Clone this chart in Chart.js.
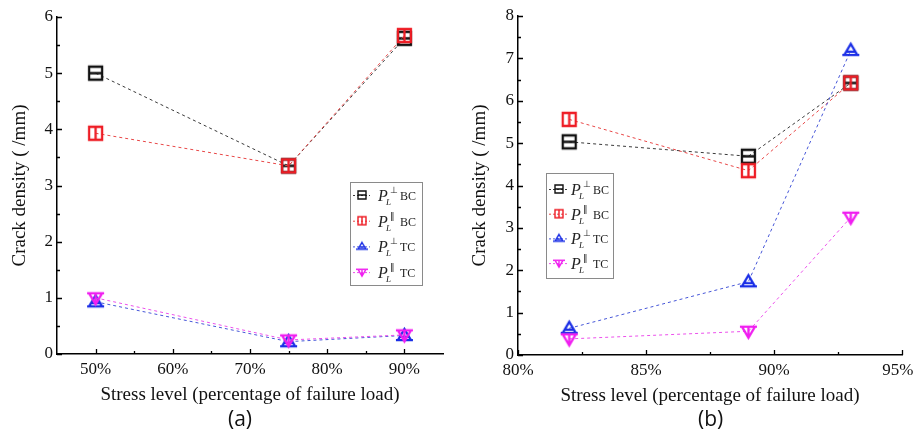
<!DOCTYPE html>
<html>
<head>
<meta charset="utf-8">
<script src="https://cdn.jsdelivr.net/npm/chart.js@4.4.0/dist/chart.umd.min.js"></script>
<style>
  body { margin: 0; background: #fff; width: 914px; height: 433px; overflow: hidden; position: relative; }
  .wrap { position: absolute; top: 0; width: 457px; height: 433px; }
  .cap { position: absolute; top: 404px; font-family: "Open Sans", sans-serif; font-size: 21px; color: #111; }
</style>
</head>
<body>
<div class="wrap" style="left:0"><canvas id="ca" width="457" height="433"></canvas></div>
<div class="wrap" style="left:457px"><canvas id="cb" width="457" height="433"></canvas></div>
<div class="cap" style="left:228px">(a)</div>
<div class="cap" style="left:698px">(b)</div>
<script>
// --- data, panel (a) ---
const xA = [50, 75, 90];
const bcPerpA = [5.0, 3.35, 5.62];
const bcParA = [3.93, 3.35, 5.67];
const tcPerpA = [0.93, 0.22, 0.33];
const tcParA = [1.0, 0.25, 0.34];
const xTicksA = [50, 60, 70, 80, 90];
const yTicksA = [0, 1, 2, 3, 4, 5, 6];

// --- data, panel (b) ---
const xB = [82, 89, 93];
const bcPerpB = [5.03, 4.69, 6.42];
const bcParB = [5.56, 4.35, 6.42];
const tcPerpB = [0.63, 1.73, 7.19];
const tcParB = [0.38, 0.56, 3.25];
const xTicksB = [80, 85, 90, 95];
const yTicksB = [0, 1, 2, 3, 4, 5, 6, 7, 8];

// series names: P_L with superscript, then specimen type
const seriesSym = ['\u22A5', '\u2016', '\u22A5', '\u2016'];
const seriesType = ['BC', 'BC', 'TC', 'TC'];

const styles = [
  { kind: 'sqH', mark: '#111111', line: '#3a3a3a' },
  { kind: 'sqV', mark: '#ee1c24', line: '#e84848' },
  { kind: 'triUp', mark: '#1a2ee6', line: '#4656d8' },
  { kind: 'triDown', mark: '#f01ef0', line: '#ec50ec' },
];

function marker(kind, color, s) {
  const pad = 3;
  const c = document.createElement('canvas');
  c.width = c.height = s + pad * 2;
  const g = c.getContext('2d');
  g.strokeStyle = color;
  g.lineWidth = s > 10 ? 2.3 : 1.4;
  const o = pad, m = pad + s / 2, e = pad + s;
  g.beginPath();
  if (kind === 'sqH') {
    g.rect(o, o, s, s);
    g.moveTo(o, m); g.lineTo(e, m);
  } else if (kind === 'sqV') {
    g.rect(o, o, s, s);
    g.moveTo(m, o); g.lineTo(m, e);
  } else if (kind === 'triUp') {
    const b = o + s * 0.85;
    g.moveTo(m, o); g.lineTo(e, b); g.lineTo(o, b); g.closePath();
    g.moveTo(o - 2, b); g.lineTo(e + 2, b);
    g.moveTo(o + s * 0.2, o + s * 0.6); g.lineTo(e - s * 0.2, o + s * 0.6);
  } else {
    const t = o + s * 0.15;
    g.moveTo(o, t); g.lineTo(e, t); g.lineTo(m, e); g.closePath();
    g.moveTo(o - 2, t); g.lineTo(e + 2, t);
    g.moveTo(m, t); g.lineTo(m, e);
  }
  g.stroke();
  return c;
}

function midpoints(arr) {
  const out = [];
  for (let i = 0; i < arr.length - 1; i++) out.push((arr[i] + arr[i + 1]) / 2);
  return out;
}

// inward major/minor ticks, drawn by hand
const inTicks = {
  id: 'inTicks',
  afterDraw(chart, args, o) {
    const { ctx } = chart;
    const xs = chart.scales.x, ys = chart.scales.y;
    const a = chart.chartArea;
    ctx.save();
    ctx.strokeStyle = '#000';
    ctx.lineWidth = 1.3;
    ctx.beginPath();
    const draw = (vals, len, horiz) => vals.forEach(v => {
      if (horiz) {
        const p = Math.round(xs.getPixelForValue(v)) + 0.5;
        ctx.moveTo(p, a.bottom); ctx.lineTo(p, a.bottom - len);
      } else {
        const p = Math.round(ys.getPixelForValue(v)) + 0.5;
        ctx.moveTo(a.left, p); ctx.lineTo(a.left + len, p);
      }
    });
    draw(o.xTicks, 5, true);
    draw(midpoints(o.xTicks), 3, true);
    draw(o.yTicks, 5, false);
    draw(midpoints(o.yTicks), 3, false);
    ctx.stroke();
    ctx.restore();
  }
};

const legendBox = {
  id: 'legendBox',
  afterDraw(chart, args, o) {
    const { ctx } = chart;
    ctx.save();
    ctx.strokeStyle = '#8a8a8a';
    ctx.lineWidth = 1;
    ctx.strokeRect(o.x + 0.5, o.y + 0.5, o.w, o.h);
    chart.data.datasets.forEach((ds, i) => {
      const cy = o.y + o.first + i * o.gap;
      ctx.strokeStyle = ds.borderColor;
      ctx.lineWidth = 1;
      ctx.setLineDash([2, 2]);
      ctx.beginPath();
      ctx.moveTo(o.x + 3, cy + 0.5); ctx.lineTo(o.x + o.mx + 8, cy + 0.5);
      ctx.stroke();
      ctx.setLineDash([]);
      const mk = ds.legendMark;
      ctx.drawImage(mk, o.x + o.mx - mk.width / 2, cy - mk.height / 2);
      ctx.fillStyle = '#222';
      ctx.textBaseline = 'alphabetic';
      ctx.font = 'italic 16px "Liberation Serif"';
      ctx.fillText('P', o.x + o.tx, cy + 6);
      ctx.font = 'italic 9px "Liberation Serif"';
      ctx.fillText('L', o.x + o.tx + 8, cy + 10);
      ctx.font = '9px "DejaVu Sans"';
      ctx.fillText(seriesSym[i], o.x + o.tx + 12, cy - 2);
      ctx.font = '12px "Liberation Serif"';
      ctx.fillText(seriesType[i], o.x + o.tx + 22, cy + 5);
    });
    ctx.restore();
  }
};

function build(id, xs, series, xTicks, yTicks, xMin, xMax, lay, leg) {
  const datasets = series.map((vals, i) => ({
    label: 'P L' + seriesSym[i] + ' ' + seriesType[i],
    data: xs.map((x, j) => ({ x: x, y: vals[j] })),
    borderColor: styles[i].line,
    borderWidth: 1,
    borderDash: [3, 3],
    pointStyle: marker(styles[i].kind, styles[i].mark, 13),
    legendMark: marker(styles[i].kind, styles[i].mark, 8),
    order: 4 - i,
  }));
  const serif = '"Liberation Serif", "Times New Roman", serif';
  new Chart(document.getElementById(id), {
    type: 'line',
    data: { datasets },
    options: {
      responsive: false,
      animation: false,
      layout: { padding: lay.padding },
      plugins: {
        legend: { display: false },
        tooltip: { enabled: false },
        inTicks: { xTicks, yTicks },
        legendBox: leg,
      },
      scales: {
        x: {
          type: 'linear', min: xMin, max: xMax,
          grid: { display: false, drawTicks: false },
          border: { display: true, color: '#000', width: 1.5 },
          afterBuildTicks: s => { s.ticks = xTicks.map(v => ({ value: v })); },
          afterFit: s => { s.height = 52; s.paddingLeft = 0; s.paddingRight = 0; },
          ticks: { color: '#111', font: { family: serif, size: 17 }, padding: 5, maxRotation: 0,
                   // last label of (b) sits at the page edge: nudge it in with an en space
                   callback: (v, i, arr) => (lay.nudgeLast && i === arr.length - 1) ? v + '%\u2002' : v + '%' },
          title: { display: true, text: 'Stress level (percentage of failure load)', color: '#111',
                   font: { family: serif, size: 19 }, padding: { top: 0, bottom: 0 } },
        },
        y: {
          min: yTicks[0], max: yTicks[yTicks.length - 1],
          grid: { display: false, drawTicks: false },
          border: { display: true, color: '#000', width: 1.5 },
          afterBuildTicks: s => { s.ticks = yTicks.map(v => ({ value: v })); },
          afterFit: s => { s.width = lay.yWidth; s.paddingTop = 0; s.paddingBottom = 0; },
          ticks: { color: '#111', font: { family: serif, size: 17 }, padding: 4 },
          title: { display: true, text: 'Crack density ( /mm)', color: '#111',
                   font: { family: serif, size: 19 }, padding: { top: lay.titlePad, bottom: 0 } },
        },
      },
    },
    plugins: [inTicks, legendBox],
  });
}

build('ca', xA, [bcPerpA, bcParA, tcPerpA, tcParA], xTicksA, yTicksA, 45, 95,
  { padding: { left: 0, top: 17, right: 14, bottom: 27 }, yWidth: 57, titlePad: 9 },
  { x: 350, y: 182, w: 72, h: 103, first: 13, gap: 25.7, mx: 12, tx: 28 });

build('cb', xB, [bcPerpB, bcParB, tcPerpB, tcParB], xTicksB, yTicksB, 80, 95,
  { padding: { left: 0, top: 16, right: 12, bottom: 26 }, yWidth: 61, titlePad: 12, nudgeLast: true },
  { x: 89, y: 173, w: 67, h: 105, first: 16, gap: 24.7, mx: 13, tx: 25 });
</script>
</body>
</html>
